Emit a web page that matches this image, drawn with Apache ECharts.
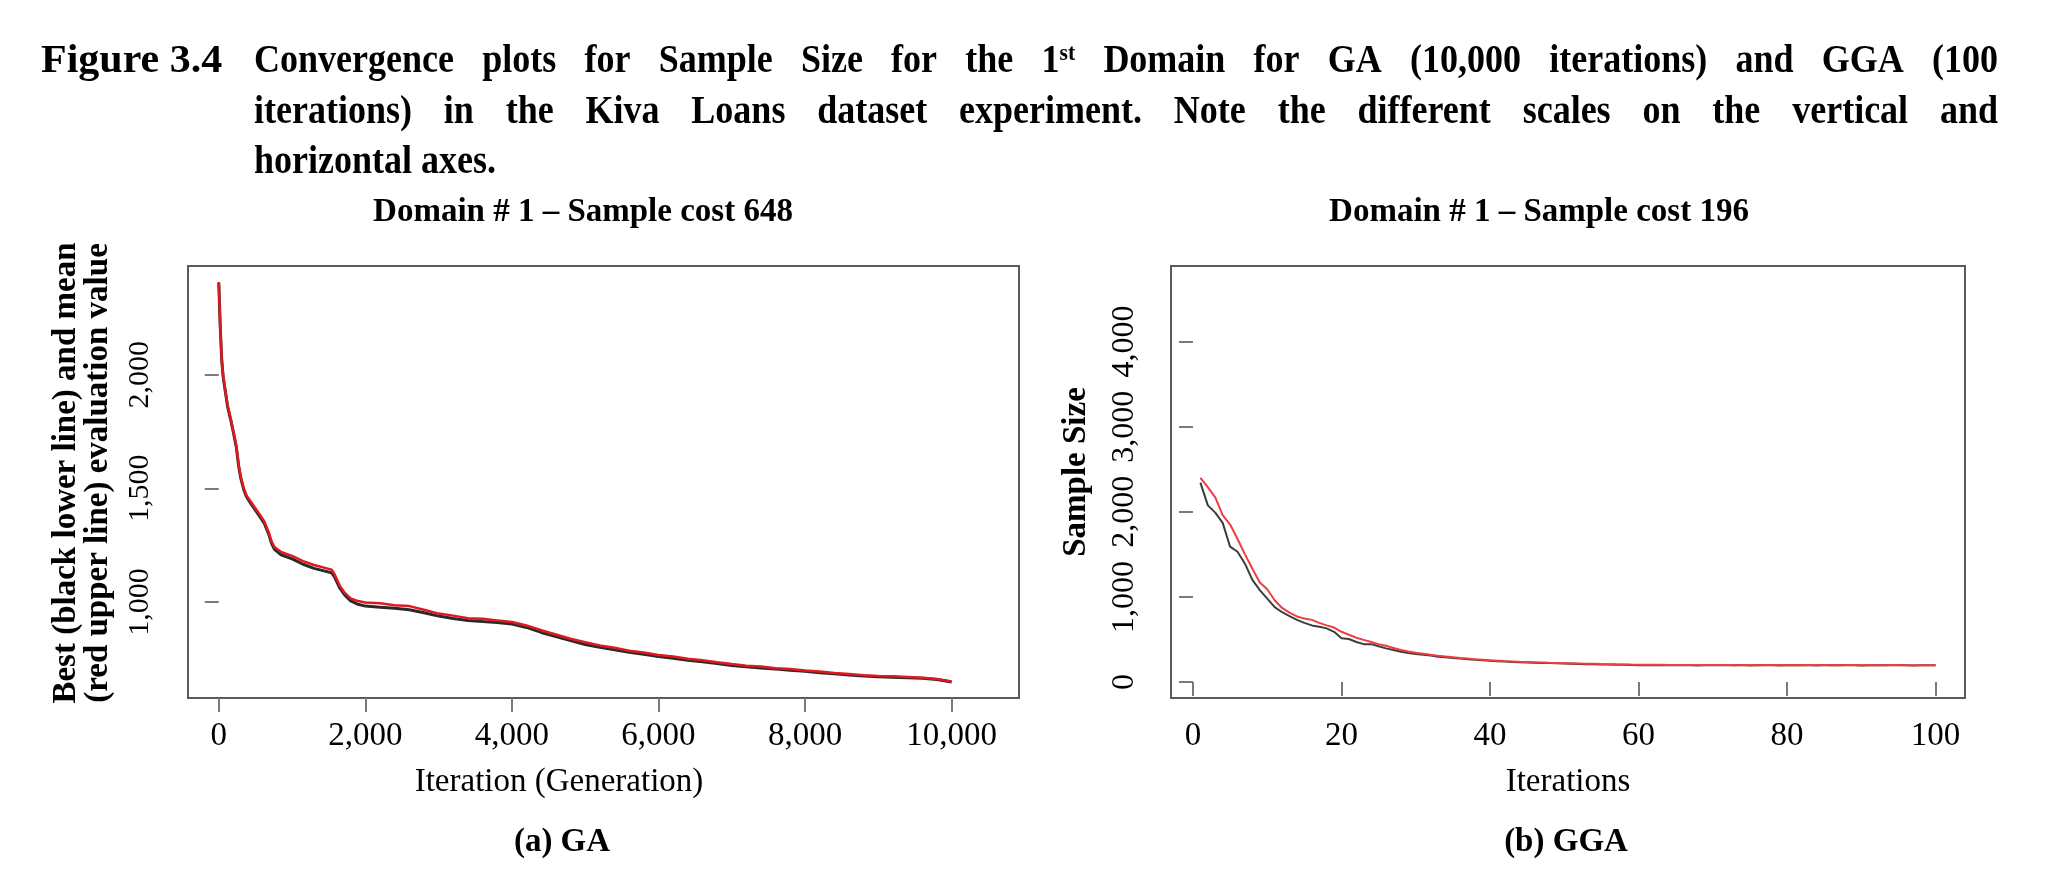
<!DOCTYPE html>
<html>
<head>
<meta charset="utf-8">
<script src="https://cdn.jsdelivr.net/npm/echarts@6/dist/echarts.min.js"></script>
<style>
  html, body { margin: 0; padding: 0; background: #fff; }
  #chart { width: 2068px; height: 889px; }
</style>
</head>
<body>
<div id="chart"></div>
<script>
// ---- data ----
// (a) GA, 10,000 generations
const gaIter = [0, 20, 40, 60, 90, 120, 160, 200, 240, 270, 300, 340, 380, 440, 530, 620, 680, 720, 760, 850,
  1000, 1150, 1300, 1450, 1540, 1580, 1650, 1720, 1800, 1900,
  2000, 2200, 2400, 2600, 2800, 3000, 3200, 3400, 3600, 3800, 4000, 4200, 4400, 4600, 4800, 5000,
  5200, 5400, 5600, 5800, 6000, 6200, 6400, 6600, 6800, 7000, 7200, 7400, 7600, 7800, 8000,
  8200, 8400, 8600, 8800, 9000, 9200, 9400, 9600, 9800, 10000];
// best (black lower line)
const gaBest = [2404, 2210, 2065, 1990, 1925, 1860, 1805, 1745, 1680, 1600, 1545, 1495, 1462, 1432, 1390, 1347, 1300, 1258, 1232, 1208,
  1190, 1166, 1148, 1136, 1128, 1110, 1062, 1030, 1005, 990,
  982, 977, 972, 966, 953, 938, 927, 919, 914, 910, 903, 888, 866, 848, 830, 813,
  801, 790, 779, 770, 760, 752, 744, 737, 729, 721, 715, 710, 705, 700, 695,
  689, 684, 679, 674, 671, 669, 667, 664, 659, 648];
// mean (red upper line)
const gaMean = [2408, 2214, 2070, 1995, 1930, 1866, 1811, 1750, 1686, 1606, 1551, 1502, 1468, 1440, 1398, 1355, 1308, 1267, 1242, 1220,
  1203, 1180, 1163, 1150, 1142, 1122, 1072, 1040, 1016, 1004,
  998, 994, 986, 982, 966, 949, 940, 929, 926, 919, 912, 897, 876, 857, 838, 823,
  809, 799, 786, 778, 767, 760, 750, 744, 735, 727, 720, 716, 709, 705, 699,
  694, 688, 683, 678, 674, 673, 670, 667, 661, 650];

// (b) GGA, 100 iterations (1..100)
const ggaBest = [2343, 2075, 1990, 1870, 1590, 1530, 1390, 1200, 1080, 980,
  880, 820, 775, 730, 695, 665, 650, 630, 590, 515,
  505, 470, 445, 445, 420, 395, 375, 355, 340, 330,
  320, 310, 298, 290, 282, 275, 268, 260, 255, 250,
  245, 240, 236, 232, 229, 226, 224, 222, 220, 217,
  214, 211, 210, 208, 206, 205, 204, 202, 200, 198,
  199, 197, 198, 196, 197, 198, 197, 195, 196, 197,
  196, 198, 197, 196, 195, 197, 198, 196, 195, 197,
  198, 196, 197, 195, 196, 197, 198, 196, 197, 195,
  196, 197, 196, 198, 197, 196, 195, 196, 197, 196];
const ggaMean = [2398, 2290, 2170, 1960, 1850, 1680, 1500, 1330, 1170, 1090,
  960, 870, 815, 770, 745, 730, 695, 665, 640, 590,
  555, 520, 495, 470, 445, 425, 400, 375, 358, 345,
  333, 320, 308, 300, 292, 283, 275, 268, 262, 256,
  251, 246, 242, 238, 235, 232, 229, 226, 224, 221,
  219, 217, 215, 213, 211, 210, 208, 207, 205, 204,
  203, 202, 202, 201, 201, 200, 200, 200, 199, 199,
  200, 199, 198, 199, 199, 198, 199, 200, 199, 198,
  199, 198, 199, 200, 199, 198, 198, 199, 200, 198,
  199, 198, 198, 199, 200, 198, 197, 198, 197, 197];
const ggaIter = ggaBest.map((v, i) => i + 1);

// tick labels
const gaXTicks = [0, 2000, 4000, 6000, 8000, 10000];
const gaYTicks = [1000, 1500, 2000];
const ggaXTicks = [0, 20, 40, 60, 80, 100];
const ggaYTicks = [0, 1000, 2000, 3000, 4000];
const gaXLim = [0, 10500];
const ggaYLim = [0, 4700];

// R-style axis range: 4% padding each side
const pad = (lo, hi) => [lo - 0.04 * (hi - lo), hi + 0.04 * (hi - lo)];
const gaXR = pad(gaXLim[0], gaXLim[1]);
const gaYR = pad(Math.min(...gaBest, ...gaMean), Math.max(...gaBest, ...gaMean));
const ggaXR = pad(1, ggaIter.length);
const ggaYR = pad(ggaYLim[0], ggaYLim[1]);

const FONT = '"Liberation Serif", "Times New Roman", serif';
const fmt = v => Number(v).toLocaleString('en-US');
const pairs = (xs, ys) => xs.map((x, i) => [x, ys[i]]);

function xAxisCfg(idx, range, ticks) {
  return {
    type: 'value', gridIndex: idx, min: range[0], max: range[1],
    axisLine: { show: false },
    splitLine: { show: false },
    axisTick: { show: true, customValues: ticks, length: 14, lineStyle: { color: '#7a7a7a', width: 2 } },
    axisLabel: { customValues: ticks, formatter: fmt, margin: 22, color: '#000', fontFamily: FONT, fontSize: 33 }
  };
}
function yAxisCfg(idx, range, ticks, size, margin) {
  return {
    type: 'value', gridIndex: idx, min: range[0], max: range[1],
    axisLine: { show: false },
    splitLine: { show: false },
    axisTick: { show: true, customValues: ticks, length: 14, lineStyle: { color: '#7a7a7a', width: 2 } },
    axisLabel: { customValues: ticks, formatter: fmt, rotate: 90, margin: margin, color: '#000', fontFamily: FONT, fontSize: size }
  };
}

// ---- caption: condensed bold serif, lines 1-2 justified word by word ----
const ctx = document.createElement('canvas').getContext('2d');
function textW(str, size) {
  ctx.font = 'bold ' + size + 'px ' + FONT;
  return ctx.measureText(str).width;
}
const capLeft = 254, capRight = 1998, capSize = 40, supSize = 24, squeeze = 0.9;
const capLines = [
  { y: 62, justify: true, text: 'Convergence plots for Sample Size for the 1^st Domain for GA (10,000 iterations) and GGA (100' },
  { y: 113, justify: true, text: 'iterations) in the Kiva Loans dataset experiment. Note the different scales on the vertical and' },
  { y: 163, justify: false, text: 'horizontal axes.' }
];
const capRich = {
  b: { fontFamily: FONT, fontWeight: 'bold', fontSize: capSize },
  sup: { fontFamily: FONT, fontWeight: 'bold', fontSize: supSize, verticalAlign: 'top' }
};
function wordItem(word) {
  // "1^st" -> 1 with superscript st
  if (word.indexOf('^') >= 0) {
    const p = word.split('^');
    return { w: (textW(p[0], capSize) + textW(p[1], supSize)) * squeeze, text: '{b|' + p[0] + '}{sup|' + p[1] + '}' };
  }
  return { w: textW(word, capSize) * squeeze, text: word };
}
const captionEls = [];
capLines.forEach(line => {
  const words = line.text.split(' ').map(wordItem);
  const total = words.reduce((s, w) => s + w.w, 0);
  const gap = line.justify ? (capRight - capLeft - total) / (words.length - 1) : textW(' ', capSize) * squeeze;
  let x = capLeft;
  words.forEach(w => {
    captionEls.push({
      type: 'text', x: x, y: line.y, scaleX: squeeze,
      style: { text: w.text, rich: capRich, fill: '#000', fontFamily: FONT, fontWeight: 'bold', fontSize: capSize, align: 'left', verticalAlign: 'middle' }
    });
    x += w.w + gap;
  });
});
captionEls.push({
  type: 'text', x: 41, y: 62, scaleX: 1.05,
  style: { text: 'Figure 3.4', fill: '#000', fontFamily: FONT, fontWeight: 'bold', fontSize: capSize, align: 'left', verticalAlign: 'middle' }
});

const txt = (x, y, text, size, bold, extra) => Object.assign({
  type: 'text', x: x, y: y,
  style: { text: text, fill: '#000', fontFamily: FONT, fontWeight: bold ? 'bold' : 'normal', fontSize: size, align: 'center', verticalAlign: 'middle' }
}, extra || {});

const chart = echarts.init(document.getElementById('chart'), null, { renderer: 'canvas' });
chart.setOption({
  animation: false,
  backgroundColor: '#fff',
  grid: [
    { left: 188, top: 266, width: 831, height: 432, show: true, borderColor: '#5a5a5a', borderWidth: 2, backgroundColor: 'transparent', outerBoundsMode: 'none' },
    { left: 1171, top: 266, width: 794, height: 432, show: true, borderColor: '#5a5a5a', borderWidth: 2, backgroundColor: 'transparent', outerBoundsMode: 'none' }
  ],
  xAxis: [xAxisCfg(0, gaXR, gaXTicks), xAxisCfg(1, ggaXR, ggaXTicks)],
  yAxis: [yAxisCfg(0, gaYR, gaYTicks, 30, 33), yAxisCfg(1, ggaYR, ggaYTicks, 32, 30)],
  series: [
    { name: 'GA best', type: 'line', xAxisIndex: 0, yAxisIndex: 0, data: pairs(gaIter, gaBest), showSymbol: false, lineStyle: { color: '#2a2a2a', width: 3 } },
    { name: 'GA mean', type: 'line', xAxisIndex: 0, yAxisIndex: 0, data: pairs(gaIter, gaMean), showSymbol: false, lineStyle: { color: '#e0191f', width: 2.5 } },
    { name: 'GGA best', type: 'line', xAxisIndex: 1, yAxisIndex: 1, data: pairs(ggaIter, ggaBest), showSymbol: false, lineStyle: { color: '#3d3d3d', width: 2 } },
    { name: 'GGA mean', type: 'line', xAxisIndex: 1, yAxisIndex: 1, data: pairs(ggaIter, ggaMean), showSymbol: false, lineStyle: { color: '#ef3d42', width: 2 } }
  ],
  graphic: captionEls.concat([
    // panel titles
    txt(583, 212, 'Domain # 1 \u2013 Sample cost 648', 33, true),
    txt(1539, 212, 'Domain # 1 \u2013 Sample cost 196', 33, true),
    // y axis titles
    txt(66, 473, 'Best (black lower line) and mean', 33, true, { rotation: Math.PI / 2 }),
    txt(98, 473, '(red upper line) evaluation value', 33, true, { rotation: Math.PI / 2 }),
    txt(1076, 472, 'Sample Size', 33, true, { rotation: Math.PI / 2 }),
    // x axis titles
    txt(559, 782, 'Iteration (Generation)', 33, false),
    txt(1568, 782, 'Iterations', 33, false),
    // sub captions
    txt(562, 842, '(a) GA', 33, true),
    txt(1566, 842, '(b) GGA', 33, true)
  ])
});
</script>
</body>
</html>
